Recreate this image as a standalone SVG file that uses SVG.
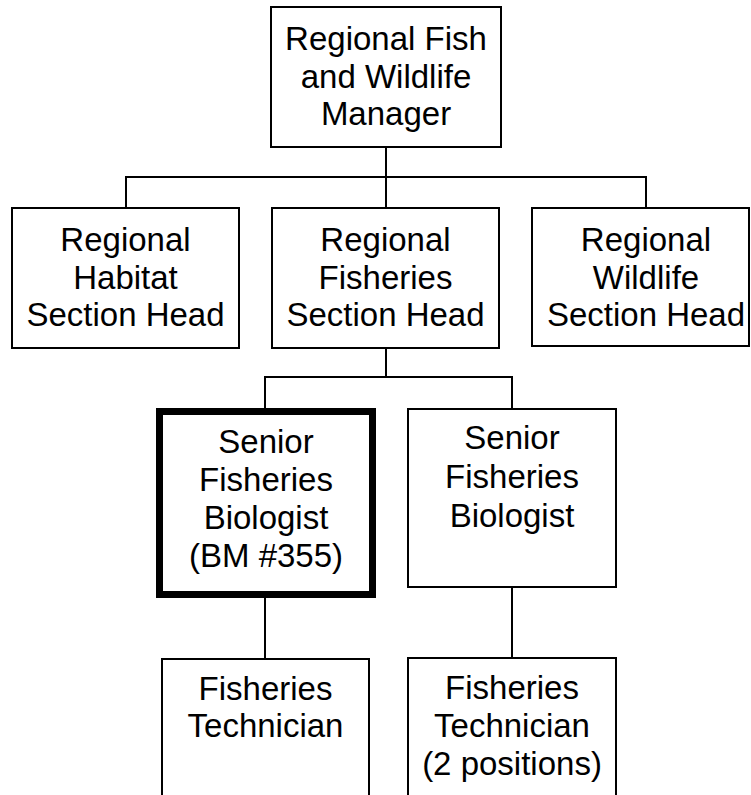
<svg xmlns="http://www.w3.org/2000/svg" width="751" height="795" viewBox="0 0 751 795">
<style>
.box{fill:#fff;stroke:#000;stroke-width:2}
.thick{fill:#fff;stroke:#000;stroke-width:7}
.lbl{font-family:"Liberation Sans",Arial,sans-serif;font-size:33px;fill:#000;text-anchor:middle}
.conn{stroke:#000;stroke-width:2;fill:none}
</style>
<rect width="751" height="795" fill="#fff"/>
<g id="connectors">
<path class="conn" d="M386 147V177M126 208V177H646V208M386 177V208"/>
<path class="conn" d="M386 348V377M265 408V377H512V409"/>
<path class="conn" d="M265 598V659M512 587V658"/>
</g>
<g id="manager">
<rect class="box" x="271" y="7" width="230" height="140"/>
<text class="lbl" x="386" y="50">Regional Fish</text>
<text class="lbl" x="386" y="87.5">and Wildlife</text>
<text class="lbl" x="386" y="125">Manager</text>
</g>
<g id="habitat">
<rect class="box" x="12" y="208" width="227" height="140"/>
<text class="lbl" x="125.5" y="251">Regional</text>
<text class="lbl" x="125.5" y="288.5">Habitat</text>
<text class="lbl" x="125.5" y="326">Section Head</text>
</g>
<g id="fisheries">
<rect class="box" x="272" y="208" width="227" height="140"/>
<text class="lbl" x="385.5" y="251">Regional</text>
<text class="lbl" x="385.5" y="288.5">Fisheries</text>
<text class="lbl" x="385.5" y="326">Section Head</text>
</g>
<g id="wildlife">
<rect class="box" x="532" y="208" width="217" height="138"/>
<text class="lbl" x="646" y="251">Regional</text>
<text class="lbl" x="646" y="288.5">Wildlife</text>
<text class="lbl" x="646" y="326">Section Head</text>
</g>
<g id="senior1">
<rect class="thick" x="159.5" y="411.5" width="213" height="183"/>
<text class="lbl" x="266" y="453">Senior</text>
<text class="lbl" x="266" y="491">Fisheries</text>
<text class="lbl" x="266" y="529">Biologist</text>
<text class="lbl" x="266" y="567">(BM #355)</text>
</g>
<g id="senior2">
<rect class="box" x="408" y="409" width="208" height="178"/>
<text class="lbl" x="512" y="449">Senior</text>
<text class="lbl" x="512" y="488">Fisheries</text>
<text class="lbl" x="512" y="527">Biologist</text>
</g>
<g id="tech1">
<rect class="box" x="162" y="659" width="207" height="160"/>
<text class="lbl" x="265.5" y="700">Fisheries</text>
<text class="lbl" x="265.5" y="737">Technician</text>
</g>
<g id="tech2">
<rect class="box" x="408" y="658" width="208" height="160"/>
<text class="lbl" x="512" y="699">Fisheries</text>
<text class="lbl" x="512" y="737">Technician</text>
<text class="lbl" x="512" y="775">(2 positions)</text>
</g>
</svg>
